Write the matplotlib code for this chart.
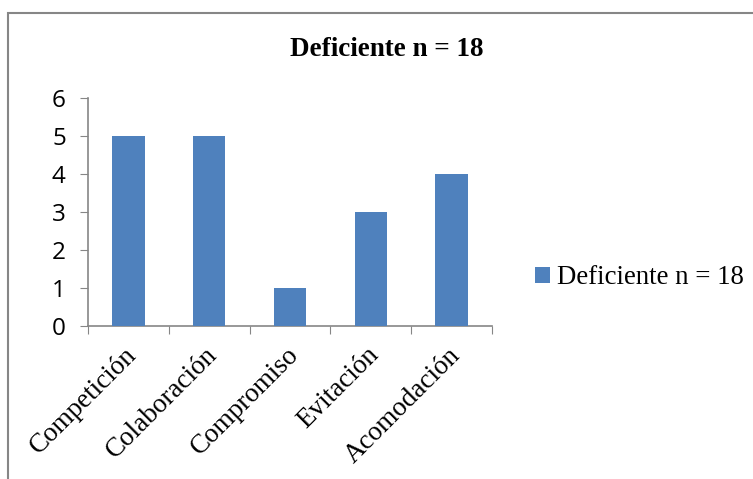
import matplotlib
matplotlib.use("Agg")
import matplotlib.pyplot as plt
from matplotlib.patches import Rectangle, Patch

categories = ["Competición", "Colaboración", "Compromiso", "Evitación", "Acomodación"]
values = [5, 5, 1, 3, 4]
series_name = "Deficiente n = 18"
title = "Deficiente n = 18"

W, H = 753, 479
fig = plt.figure(figsize=(W / 100, H / 100), dpi=100)
fig.patch.set_facecolor("white")

# outer chart border
fig.add_artist(Rectangle((8 / W, -0.1), 1.2, 1 - 13 / H + 0.1, transform=fig.transFigure,
                         fill=False, edgecolor="#868686", linewidth=1.5))

left, right = 88 / W, 492 / W
bottom, top = 1 - 326 / H, 1 - 98 / H
ax = fig.add_axes([left, bottom, right - left, top - bottom])

x = list(range(len(categories)))
bars = ax.bar(x, values, width=0.4, color="#4F81BD", label=series_name, zorder=3)
ax.set_xlim(-0.5, len(categories) - 0.5)
ax.set_ylim(0, 6)
ax.set_yticks(range(0, 7))
ax.set_yticklabels([str(i) for i in range(0, 7)], family="Open Sans", fontsize=17.5)

ax.set_xticks([i - 0.5 for i in range(len(categories) + 1)])
ax.set_xticklabels([])
for i, cat in zip(x, categories):
    ax.annotate(cat, xy=(i, 0), xycoords=("data", "axes fraction"),
                xytext=(-3, -12), textcoords="offset points",
                rotation=45, ha="right", va="top", rotation_mode="anchor",
                family="Liberation Serif", fontsize=19.5, annotation_clip=False)
ax.tick_params(axis="x", which="major", length=6, color="#868686", direction="out")
ax.tick_params(axis="y", length=6, color="#868686", direction="out", pad=10)

for s in ["top", "right"]:
    ax.spines[s].set_visible(False)
for s in ["left", "bottom"]:
    ax.spines[s].set_color("#868686")
    ax.spines[s].set_linewidth(1.2)

fig.text(387 / W, 1 - 50 / H, title, ha="center", va="center",
         family="Liberation Serif", fontweight="bold", fontsize=19.5)

handle = Patch(facecolor="#4F81BD", edgecolor="none")
fig.legend([handle], [series_name], loc="center left", bbox_to_anchor=(522 / W, 1 - 278 / H),
           frameon=False, prop={"family": "Liberation Serif", "size": 19.3},
           handlelength=0.55, handleheight=0.55, handletextpad=0.25, borderpad=0)

fig.savefig("out.png", dpi=100)
